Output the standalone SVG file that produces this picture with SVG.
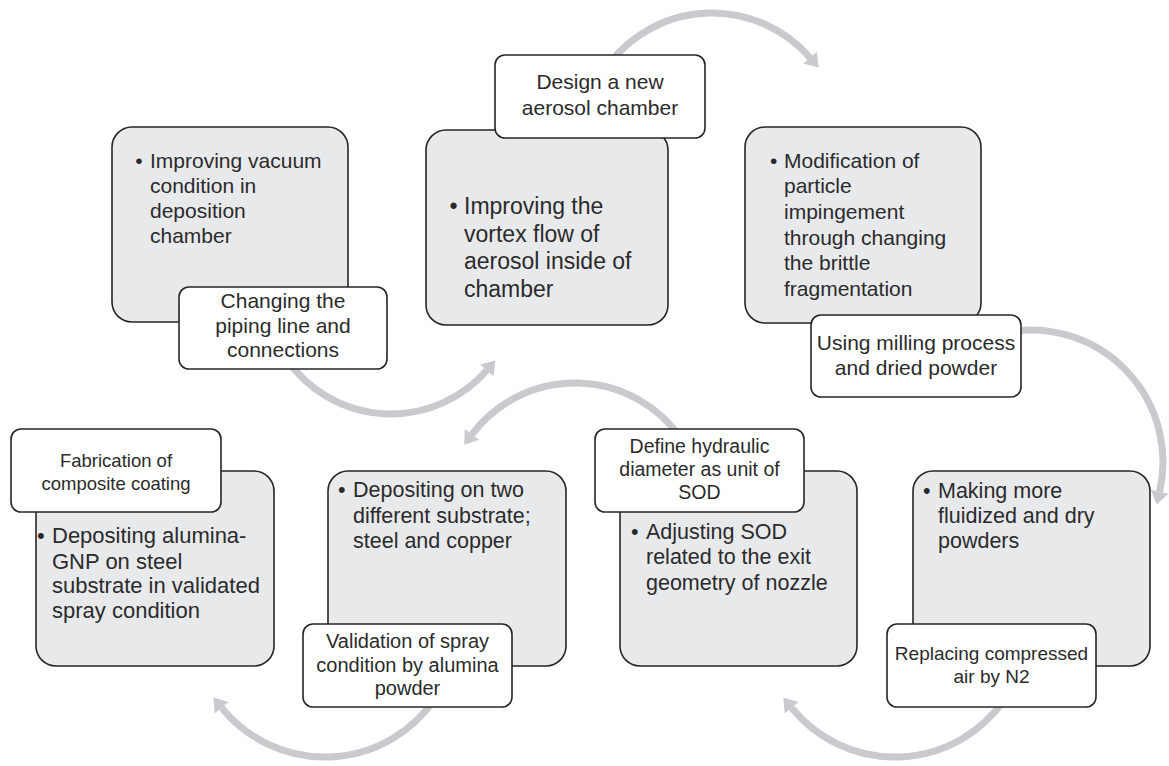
<svg xmlns="http://www.w3.org/2000/svg" width="1169" height="766" viewBox="0 0 1169 766">
  <style>
    .card { fill: #e8e9eb; stroke: #262626; stroke-width: 1.6; }
    .tag { fill: #ffffff; stroke: #262626; stroke-width: 1.6; }
    .txt { font-family: "Liberation Sans", Arial, sans-serif; fill: #2b2b2b; }
    .mid { text-anchor: middle; }
    .arc { fill: none; stroke: #c8cacd; stroke-width: 7; }
    .head { fill: #c8cacd; }
  </style>
  <rect width="1169" height="766" fill="#ffffff"/>

  <!-- curved cycle arrows, drawn beneath the cards -->
  <g id="connectors">
    <path class="arc" d="M287.0 359.8 A127 127 0 0 0 486.8 370.3"/>
    <polygon class="head" points="495.3,360.5 493.6,376.2 480.0,364.4"/>

    <path class="arc" d="M609.6 63.0 A130 130 0 0 1 810.1 57.7"/>
    <polygon class="head" points="818.6,67.5 816.9,51.8 803.3,63.6"/>

    <path class="arc" d="M1008.1 332.0 A132 132 0 0 1 1159.6 491.7"/>
    <polygon class="head" points="1156.7,504.4 1168.4,493.7 1150.8,489.7"/>

    <path class="arc" d="M1003.9 700.3 A133 133 0 0 1 791.6 707.7"/>
    <polygon class="head" points="783.4,697.6 784.6,713.4 798.6,702.0"/>

    <path class="arc" d="M680.7 438.0 A129 129 0 0 0 472.0 434.4"/>
    <polygon class="head" points="464.2,444.8 464.8,429.0 479.2,439.8"/>

    <path class="arc" d="M433.9 700.3 A133 133 0 0 1 221.6 707.7"/>
    <polygon class="head" points="213.4,697.6 214.6,713.4 228.6,702.0"/>
  </g>

  <!-- step 1: vacuum -->
  <g id="step-vacuum">
    <rect class="card" x="112" y="127" width="236" height="195" rx="20"/>
    <g class="txt" font-size="21">
      <text x="135.3" y="168">•</text>
      <text x="150" y="168">Improving vacuum</text>
      <text x="150" y="193">condition in</text>
      <text x="150" y="218">deposition</text>
      <text x="150" y="243">chamber</text>
    </g>
    <rect class="tag" x="179" y="287" width="208" height="82" rx="10"/>
    <g class="txt mid" font-size="21">
      <text x="283" y="308">Changing the</text>
      <text x="283" y="333">piping line and</text>
      <text x="283" y="357">connections</text>
    </g>
  </g>

  <!-- step 2: aerosol chamber -->
  <g id="step-chamber">
    <rect class="card" x="426" y="130" width="242" height="195" rx="20"/>
    <g class="txt" font-size="23">
      <text x="449.6" y="214">•</text>
      <text x="464" y="214">Improving the</text>
      <text x="464" y="242">vortex flow of</text>
      <text x="464" y="269">aerosol inside of</text>
      <text x="464" y="297">chamber</text>
    </g>
    <rect class="tag" x="495" y="55" width="210" height="83" rx="10"/>
    <g class="txt mid" font-size="21">
      <text x="600" y="89">Design a new</text>
      <text x="600" y="115">aerosol chamber</text>
    </g>
  </g>

  <!-- step 3: particle impingement -->
  <g id="step-impingement">
    <rect class="card" x="745" y="127" width="236" height="196" rx="20"/>
    <g class="txt" font-size="21">
      <text x="770" y="168">•</text>
      <text x="784" y="168">Modification of</text>
      <text x="784" y="193">particle</text>
      <text x="784" y="219">impingement</text>
      <text x="784" y="245">through changing</text>
      <text x="784" y="270">the brittle</text>
      <text x="784" y="296">fragmentation</text>
    </g>
    <rect class="tag" x="811" y="315" width="210" height="82" rx="10"/>
    <g class="txt mid" font-size="21">
      <text x="916" y="350">Using milling process</text>
      <text x="916" y="375">and dried powder</text>
    </g>
  </g>

  <!-- step 4: powder feed -->
  <g id="step-powder">
    <rect class="card" x="913" y="471" width="237" height="195" rx="20"/>
    <g class="txt" font-size="21.5">
      <text x="923" y="498">•</text>
      <text x="938" y="498">Making more</text>
      <text x="938" y="523">fluidized and dry</text>
      <text x="938" y="548">powders</text>
    </g>
    <rect class="tag" x="887" y="624" width="209" height="83" rx="10"/>
    <g class="txt mid" font-size="19">
      <text x="991.5" y="660">Replacing compressed</text>
      <text x="991.5" y="683">air by N2</text>
    </g>
  </g>

  <!-- step 5: stand-off distance -->
  <g id="step-sod">
    <rect class="card" x="620" y="471" width="237" height="195" rx="20"/>
    <g class="txt" font-size="21.5">
      <text x="631" y="539">•</text>
      <text x="646" y="539">Adjusting SOD</text>
      <text x="646" y="564">related to the exit</text>
      <text x="646" y="590">geometry of nozzle</text>
    </g>
    <rect class="tag" x="595" y="429" width="209" height="83" rx="10"/>
    <g class="txt mid" font-size="19.5">
      <text x="699.5" y="453">Define hydraulic</text>
      <text x="699.5" y="476">diameter as unit of</text>
      <text x="699.5" y="499">SOD</text>
    </g>
  </g>

  <!-- step 6: substrates -->
  <g id="step-substrate">
    <rect class="card" x="328" y="471" width="238" height="195" rx="20"/>
    <g class="txt" font-size="21.5">
      <text x="338" y="497">•</text>
      <text x="353" y="497">Depositing on two</text>
      <text x="353" y="523">different substrate;</text>
      <text x="353" y="548">steel and copper</text>
    </g>
    <rect class="tag" x="303" y="624" width="209" height="83" rx="10"/>
    <g class="txt mid" font-size="20">
      <text x="407.5" y="648">Validation of spray</text>
      <text x="407.5" y="672">condition by alumina</text>
      <text x="407.5" y="695">powder</text>
    </g>
  </g>

  <!-- step 7: composite coating -->
  <g id="step-composite">
    <rect class="card" x="36" y="471" width="238" height="195" rx="20"/>
    <g class="txt" font-size="22">
      <text x="37" y="543">•</text>
      <text x="52" y="543">Depositing alumina-</text>
      <text x="52" y="569">GNP on steel</text>
      <text x="52" y="593">substrate in validated</text>
      <text x="52" y="618">spray condition</text>
    </g>
    <rect class="tag" x="11" y="429" width="210" height="83" rx="10"/>
    <g class="txt mid" font-size="18.5">
      <text x="116" y="467">Fabrication of</text>
      <text x="116" y="490">composite coating</text>
    </g>
  </g>
</svg>
